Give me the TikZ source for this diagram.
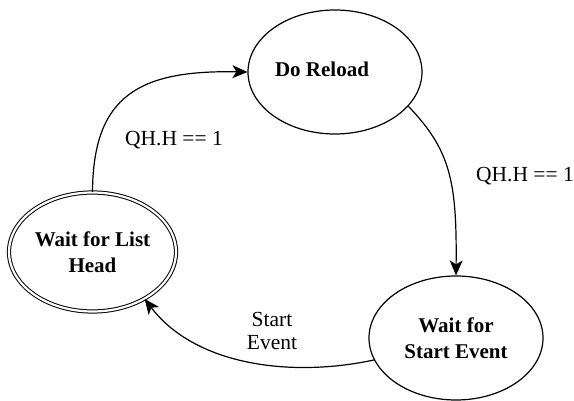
\documentclass[tikz,border=0pt]{standalone}
\usepackage{fontspec}
\setmainfont{Liberation Serif}
\usetikzlibrary{shapes.geometric,arrows.meta}

\begin{document}
\begin{tikzpicture}[x=1pt, y=-1pt,
    state/.style={draw, ellipse, line width=1.2pt, minimum width=174pt, minimum height=124pt,
                  inner sep=0pt, align=center, font=\fontsize{21}{26}\selectfont\bfseries},
    initstate/.style={state, double, double distance=2.2pt, line width=1pt,
                      minimum width=167pt, minimum height=119pt},
    edge/.style={line width=1.2pt, -{Stealth[length=15pt,width=13pt,inset=4pt]}},
    lbl/.style={font=\fontsize{21.5}{23}\selectfont, align=center}]
    \useasboundingbox (0,0) rectangle (574,401);

    \node[state] (reload) at (335,72) {};
    \node[font=\fontsize{21}{26}\selectfont\bfseries] (reloadtxt) at (322,69) {Do Reload};
    \node[initstate] (listhead) at (92.5,252) {Wait for List\\Head};
    \node[state] (startev) at (456,338) {Wait for\\Start Event};

    \draw[edge] (listhead.north) .. controls (93,95) and (140,70) .. (reload.west);
    \draw[edge] (reload.-25) .. controls (450,150) and (457,180) .. (startev.north);
    \draw[edge] (startev.195) .. controls (290,378) and (195,365) .. (listhead.-42);

    \node[lbl] (lblup) at (174,140) {QH.H == 1};
    \node[lbl] (lbldown) at (525,176) {QH.H == 1};
    \node[lbl] (lblstart) at (272,331) {Start\\Event};
\end{tikzpicture}
\end{document}
